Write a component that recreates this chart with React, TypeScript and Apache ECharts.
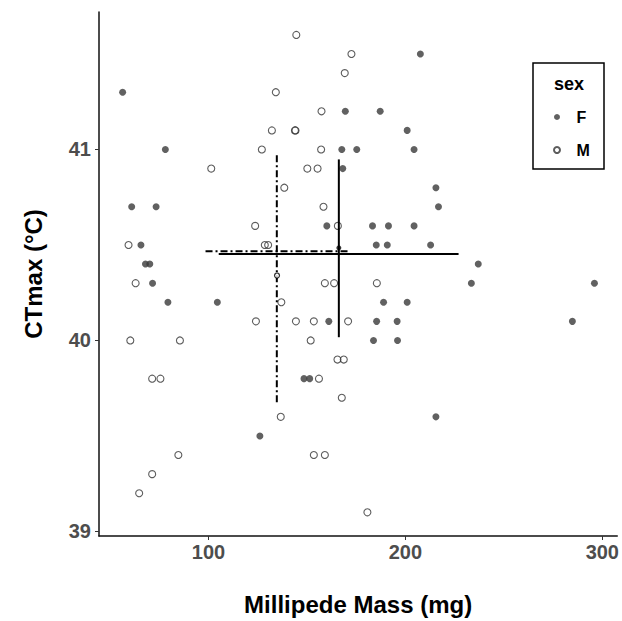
import React, { useEffect, useRef } from "react";
import * as echarts from "echarts";

// Female points: [mass (mg), CTmax (°C)]
const femalePoints: number[][] = [
  [56.4, 41.3], [78.1, 41.0], [207.6, 41.5], [169.5, 41.2], [187.2, 41.2],
  [200.9, 41.1], [167.7, 41.0], [175.3, 41.0], [204.4, 41.0], [168.2, 40.9],
  [215.5, 40.8], [216.8, 40.7], [61.0, 40.7], [73.4, 40.7], [65.7, 40.5],
  [68.0, 40.4], [70.2, 40.4], [71.6, 40.3], [79.4, 40.2], [104.5, 40.2],
  [160.1, 40.6], [183.3, 40.6], [191.4, 40.6], [204.4, 40.6], [185.2, 40.5],
  [190.8, 40.5], [212.8, 40.5], [188.9, 40.2], [200.9, 40.2], [161.1, 40.1],
  [185.4, 40.1], [195.8, 40.1], [183.8, 40.0], [196.0, 40.0], [148.5, 39.8],
  [151.4, 39.8], [126.1, 39.5], [215.5, 39.6], [237.0, 40.4], [233.5, 40.3],
  [296.0, 40.3], [284.8, 40.1],
];

// Male points
const malePoints: number[][] = [
  [101.4, 40.9], [144.6, 41.6], [172.6, 41.5], [169.2, 41.4], [134.2, 41.3],
  [157.4, 41.2], [132.2, 41.1], [143.9, 41.1], [144.2, 41.1], [127.1, 41.0],
  [157.2, 41.0], [150.2, 40.9], [155.4, 40.9], [138.5, 40.8], [158.4, 40.7],
  [123.7, 40.6], [165.7, 40.6], [59.4, 40.5], [128.6, 40.5], [130.3, 40.5],
  [63.0, 40.3], [159.1, 40.3], [163.8, 40.3], [185.5, 40.3], [137.0, 40.2],
  [124.1, 40.1], [144.4, 40.1], [153.5, 40.1], [170.9, 40.1], [60.3, 40.0],
  [85.5, 40.0], [151.9, 40.0], [165.5, 39.9], [168.7, 39.9], [71.4, 39.8],
  [75.6, 39.8], [156.1, 39.8], [167.7, 39.7], [136.7, 39.6], [180.7, 39.1],
  [153.5, 39.4], [159.1, 39.4], [84.7, 39.4], [71.4, 39.3], [64.8, 39.2],
];

// Group summaries: [xMean, xLow, xHigh, yMean, yLow, yHigh]
const summaryF: number[] = [166.2, 105.2, 227.0, 40.453, 40.017, 40.948];
const summaryM: number[] = [134.7, 98.5, 171.0, 40.467, 39.676, 40.98];

// Small centre markers
const centreF: number[][] = [[166.2, 40.485]];
const centreM: number[][] = [[134.8, 40.34]];

const xTicks = [100, 200, 300];
const yTicks = [39, 40, 41];

const xRange = [44.4, 307.6];
const yRange = [38.976, 41.72];

function crossSeries(name: string, s: number[], lineType: any) {
  const [xm, xl, xh, ym, yl, yh] = s;
  const style = { color: "#000", width: 2, type: lineType };
  return [
    {
      name: name + "-h",
      type: "line",
      data: [[xl, ym], [xh, ym]],
      symbol: "none",
      lineStyle: style,
      z: 5,
      silent: true,
    },
    {
      name: name + "-v",
      type: "line",
      data: [[xm, yl], [xm, yh]],
      symbol: "none",
      lineStyle: style,
      z: 5,
      silent: true,
    },
  ];
}

export default function App() {
  const ref = useRef<HTMLDivElement>(null);
  useEffect(() => {
    if (!ref.current) return;
    const chart = echarts.init(ref.current, undefined, { renderer: "svg" });
    const font = "Liberation Sans, Arial, sans-serif";
    chart.setOption({
      animation: false,
      backgroundColor: "#fff",
      textStyle: { fontFamily: font },
      grid: { left: 99, right: 2, top: 12, bottom: 84, containLabel: false },
      xAxis: {
        type: "value",
        min: xRange[0],
        max: xRange[1],
        name: "Millipede Mass (mg)",
        nameLocation: "middle",
        nameGap: 56,
        nameTextStyle: { fontSize: 24, fontWeight: "bold", color: "#000", fontFamily: font },
        splitLine: { show: false },
        axisLine: { lineStyle: { color: "#111", width: 1.5 } },
        axisTick: { show: true, length: 4, customValues: xTicks, lineStyle: { color: "#333" } },
        axisLabel: {
          customValues: xTicks,
          fontSize: 20,
          fontWeight: "bold",
          color: "#4d4d4d",
          margin: 6,
          fontFamily: font,
        },
      },
      yAxis: {
        type: "value",
        min: yRange[0],
        max: yRange[1],
        name: "CTmax (°C)",
        nameLocation: "middle",
        nameGap: 54,
        nameRotate: 90,
        nameTextStyle: { fontSize: 24, fontWeight: "bold", color: "#000", fontFamily: font },
        splitLine: { show: false },
        axisLine: { show: true, lineStyle: { color: "#111", width: 1.5 } },
        axisTick: { show: true, length: 4, customValues: yTicks, lineStyle: { color: "#333" } },
        axisLabel: {
          customValues: yTicks,
          fontSize: 20,
          fontWeight: "bold",
          color: "#4d4d4d",
          margin: 8,
          fontFamily: font,
        },
      },
      legend: {
        data: ["F", "M"],
        orient: "vertical",
        left: 548,
        top: 104,
        itemWidth: 29,
        itemHeight: 6,
        itemGap: 17,
        textStyle: { fontSize: 16, fontWeight: "bold", color: "#000", fontFamily: font },
      },
      graphic: [
        {
          type: "rect",
          shape: { x: 533, y: 63, width: 71, height: 106 },
          style: { fill: "none", stroke: "#000", lineWidth: 1.5 },
          z: 10,
        },
        {
          type: "text",
          x: 569,
          y: 84,
          style: {
            text: "sex",
            fontSize: 18,
            fontWeight: "bold",
            fill: "#000",
            fontFamily: font,
            align: "center",
            verticalAlign: "middle",
          },
          z: 10,
        },
      ],
      series: [
        {
          name: "F",
          type: "scatter",
          data: femalePoints,
          symbol: "circle",
          symbolSize: 7,
          itemStyle: { color: "#3a3a3a", borderColor: "#3a3a3a", borderWidth: 0 },
          z: 2,
        },
        {
          name: "M",
          type: "scatter",
          data: malePoints,
          symbol: "circle",
          symbolSize: 7,
          itemStyle: { color: "rgba(255,255,255,0)", borderColor: "#333", borderWidth: 1.1 },
          z: 2,
        },
        ...crossSeries("sumF", summaryF, "solid"),
        ...crossSeries("sumM", summaryM, [7, 3, 2, 3]),
        {
          name: "centreF",
          type: "scatter",
          data: centreF,
          symbol: "circle",
          symbolSize: 5,
          itemStyle: { color: "#000" },
          z: 6,
        },
        {
          name: "centreM",
          type: "scatter",
          data: centreM,
          symbol: "circle",
          symbolSize: 5,
          itemStyle: { color: "#fff", borderColor: "#000", borderWidth: 1.2 },
          z: 6,
        },
      ],
    });
    return () => chart.dispose();
  }, []);
  return (
    <div
      ref={ref}
      style={{ position: "absolute", left: 0, top: 0, width: 622, height: 621 }}
    />
  );
}
